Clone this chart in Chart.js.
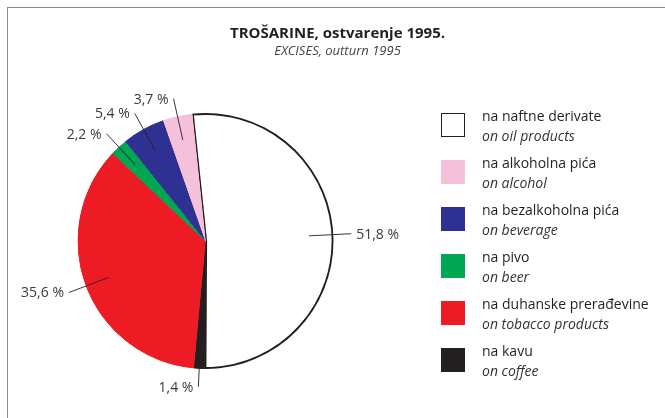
<!DOCTYPE html>
<html>
<head>
<meta charset="utf-8">
<script src="https://cdn.jsdelivr.net/npm/chart.js@4"></script>
<style>
  body { margin: 0; background: #fff; font-family: "Open Sans", sans-serif; color: #231f20; }
  #wrap { position: relative; width: 665px; height: 418px; overflow: hidden; }
  #frame { position: absolute; left: 7px; top: 7px; width: 700px; height: 450px;
           border-left: 1.5px solid #8a8a8a; border-top: 1.5px solid #8a8a8a; }
  #title { position: absolute; left: 0; width: 675px; top: 22px; text-align: center;
           font-weight: bold; font-size: 15px; }
  #subtitle { position: absolute; left: 0; width: 675px; top: 41px; text-align: center;
              font-style: italic; font-size: 13px; color: #444; }
  canvas { position: absolute; left: 0; top: 0; }
  .item { position: absolute; left: 441px; }
  .box { position: absolute; left: 0; top: 0; width: 24px; height: 24px; box-sizing: border-box; }
  .txt { position: absolute; left: 41px; top: -7px; font-size: 14px; line-height: 20px; white-space: nowrap; }
  .txt i { color: #333; }
</style>
</head>
<body>
<div id="wrap">
  <div id="frame"></div>
  <canvas id="pieChart" width="665" height="418"></canvas>
  <div id="title">TROŠARINE, ostvarenje 1995.</div>
  <div id="subtitle">EXCISES, outturn 1995</div>
  <div id="legend"></div>
</div>
<script>
// slices in drawing order (clockwise from the top)
var labelsHr = ['na naftne derivate', 'na kavu', 'na duhanske prerađevine', 'na pivo', 'na bezalkoholna pića', 'na alkoholna pića'];
var labelsEn = ['on oil products', 'on coffee', 'on tobacco products', 'on beer', 'on beverage', 'on alcohol'];
var shares = [51.8, 1.4, 35.6, 2.2, 5.4, 3.7];
var colors = ['#ffffff', '#231f20', '#ed1c24', '#00a651', '#2e3192', '#f5c1da'];
// legend order (indexes into the arrays above)
var legendOrder = [0, 5, 4, 3, 2, 1];

var legend = document.getElementById('legend');
legendOrder.forEach(function (idx, row) {
  var item = document.createElement('div');
  item.className = 'item';
  item.style.top = (113 + row * 47) + 'px';
  var border = idx === 0 ? 'border:1.5px solid #231f20;' : '';
  item.innerHTML = '<div class="box" style="background:' + colors[idx] + ';' + border + '"></div>' +
    '<div class="txt">' + labelsHr[idx] + '<br><i>' + labelsEn[idx] + '</i></div>';
  legend.appendChild(item);
});

// leader lines + percentage labels
var leaderLabels = {
  id: 'leaderLabels',
  afterDatasetsDraw: function (chart) {
    var ctx = chart.ctx;
    var meta = chart.getDatasetMeta(0);
    ctx.save();
    ctx.strokeStyle = '#231f20';
    ctx.lineWidth = 0.9;
    ctx.fillStyle = '#3a3a3a';
    ctx.font = '14px "Open Sans", sans-serif';
    ctx.textBaseline = 'middle';
    meta.data.forEach(function (arc, i) {
      var a = (arc.startAngle + arc.endAngle) / 2;
      var R = arc.outerRadius;
      var r0 = shares[i] < 2 ? R : R * 0.81;
      var r1 = R * 1.14;
      var x0 = arc.x + Math.cos(a) * r0, y0 = arc.y + Math.sin(a) * r0;
      var x1 = arc.x + Math.cos(a) * r1, y1 = arc.y + Math.sin(a) * r1;
      ctx.beginPath();
      ctx.moveTo(x0, y0);
      ctx.lineTo(x1, y1);
      ctx.stroke();
      var left = x1 < arc.x;
      ctx.textAlign = left ? 'right' : 'left';
      var txt = shares[i].toFixed(1).replace('.', ',') + ' %';
      ctx.fillText(txt, x1 + (left ? -5 : 5), y1 + 1);
    });
    ctx.restore();
  }
};

var ctxP = document.getElementById('pieChart').getContext('2d');
new Chart(ctxP, {
  type: 'pie',
  data: {
    labels: labelsHr,
    datasets: [{
      data: shares,
      backgroundColor: colors,
      borderColor: ['#231f20', '#231f20', '#ed1c24', '#00a651', '#2e3192', '#f5c1da'],
      borderWidth: [1.6, 0.5, 0.5, 0.5, 0.5, 0.5],
      borderAlign: 'inner'
    }]
  },
  options: {
    responsive: false,
    animation: false,
    rotation: -6,
    radius: 128,
    layout: { padding: { left: 77, right: 331, top: 113, bottom: 49 } },
    plugins: { legend: { display: false }, tooltip: { enabled: false } }
  },
  plugins: [leaderLabels]
});
</script>
</body>
</html>
